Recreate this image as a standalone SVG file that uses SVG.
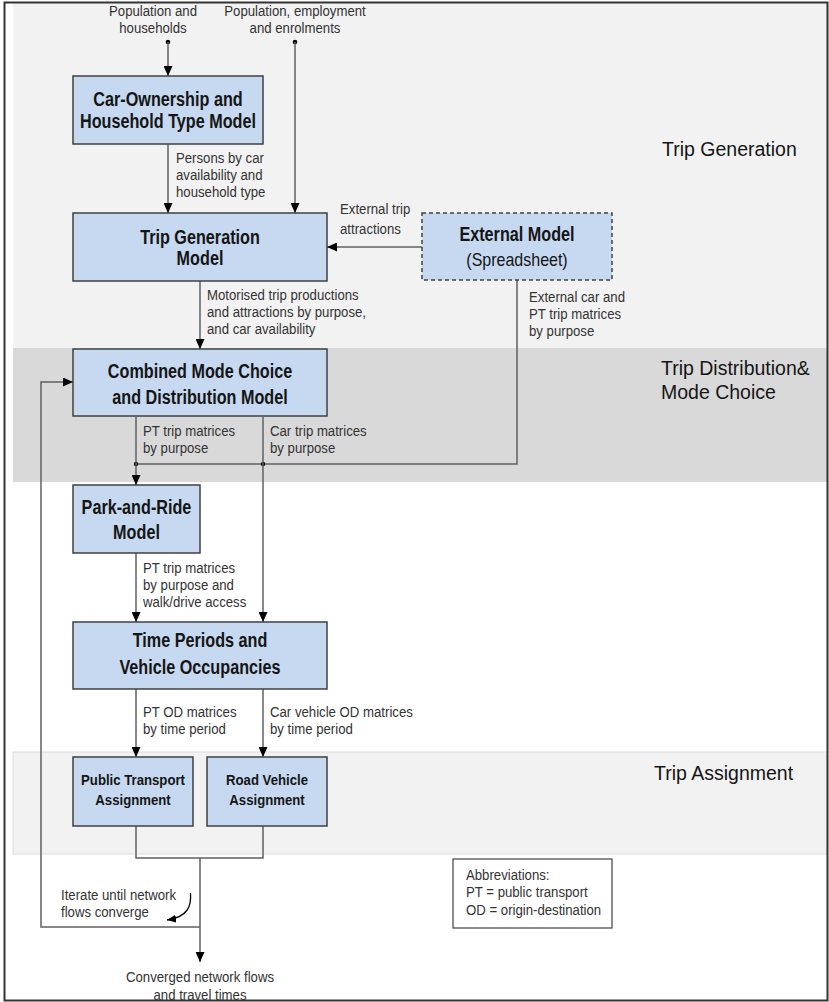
<svg xmlns="http://www.w3.org/2000/svg" width="829" height="1002" viewBox="0 0 829 1002">
<style>
.t{font-family:"Liberation Sans",Arial,sans-serif;font-weight:bold;font-size:20px;fill:#151515;text-anchor:middle}
.ts{font-family:"Liberation Sans",Arial,sans-serif;font-weight:bold;font-size:15.5px;fill:#151515;text-anchor:middle}
.sp{font-family:"Liberation Sans",Arial,sans-serif;font-size:18px;fill:#151515;text-anchor:middle}
.l{font-family:"Liberation Sans",Arial,sans-serif;font-size:15px;fill:#333}
.lm{font-family:"Liberation Sans",Arial,sans-serif;font-size:15px;fill:#333;text-anchor:middle}
.h{font-family:"Liberation Sans",Arial,sans-serif;font-size:19.5px;fill:#151515}
.box{fill:#c6d9f1;stroke:#404040;stroke-width:1.5}
.dbox{fill:#c6d9f1;stroke:#404040;stroke-width:1.5;stroke-dasharray:4 3}
.c{fill:none;stroke:#606060;stroke-width:1.5}
.ca{fill:none;stroke:#606060;stroke-width:1.5;marker-end:url(#ah)}
</style>
<defs>
<marker id="ah" markerUnits="userSpaceOnUse" markerWidth="10" markerHeight="9" refX="10" refY="4.5" orient="auto">
<path d="M0,0 L10,4.5 L0,9 z" fill="#000"/>
</marker>
<marker id="ahs" markerUnits="userSpaceOnUse" markerWidth="10" markerHeight="8" refX="9" refY="4" orient="auto">
<path d="M0,0 L9,4 L0,8 z" fill="#000"/>
</marker>
</defs>

<g id="background">
<rect x="0" y="0" width="829" height="1002" fill="#fff"/>
<rect x="13" y="3" width="814" height="345" fill="#f2f2f2"/>
<rect x="13" y="348" width="814" height="134" fill="#d9d9d9"/>
<rect x="13" y="752" width="814" height="102" fill="#f2f2f2" stroke="#dcdcdc" stroke-width="1"/>
<rect x="4.5" y="2.5" width="823" height="998" fill="none" stroke="#333" stroke-width="2"/>
</g>

<g id="stage-labels">
<text class="h" x="662" y="156">Trip Generation</text>
<text class="h" x="661" y="375">Trip Distribution&amp;</text>
<text class="h" x="661" y="399">Mode Choice</text>
<text class="h" x="654" y="780">Trip Assignment</text>
</g>

<g id="connectors">
<circle cx="168" cy="42" r="2.3" fill="#000"/>
<circle cx="295" cy="42" r="2.3" fill="#000"/>
<path class="ca" d="M168,42 V76"/>
<path class="ca" d="M295,42 V213"/>
<path class="ca" d="M168,144 V213"/>
<path class="ca" d="M422,247 H327"/>
<path class="ca" d="M200,281 V349"/>
<path class="c" d="M517,280 V464 H136"/>
<circle cx="136" cy="464" r="2.2" fill="#000"/>
<circle cx="263" cy="464" r="2.2" fill="#000"/>
<path class="ca" d="M136,417 V485"/>
<path class="ca" d="M263,417 V622"/>
<path class="ca" d="M136,553 V622"/>
<path class="ca" d="M136,689 V757"/>
<path class="ca" d="M263,689 V757"/>
<path class="c" d="M136,826 V858 H263 V826"/>
<path class="ca" d="M200,858 V962"/>
<path class="ca" d="M200,927 H41 V382 H73"/>
<path fill="none" stroke="#000" stroke-width="1.3" marker-end="url(#ahs)" d="M190.5,893 C191.5,906 188,917 167,920"/>
</g>

<g id="inputs">
<text class="lm" transform="matrix(0.88 0 0 1 153 16)">Population and</text>
<text class="lm" transform="matrix(0.88 0 0 1 153 33)">households</text>
<text class="lm" transform="matrix(0.88 0 0 1 295 16)">Population, employment</text>
<text class="lm" transform="matrix(0.88 0 0 1 295 33)">and enrolments</text>
</g>

<g id="edge-labels">
<text class="l" transform="matrix(0.88 0 0 1 176 163)">Persons by car</text>
<text class="l" transform="matrix(0.88 0 0 1 176 180)">availability and</text>
<text class="l" transform="matrix(0.88 0 0 1 176 197)">household type</text>
<text class="l" transform="matrix(0.88 0 0 1 340 214)">External trip</text>
<text class="l" transform="matrix(0.88 0 0 1 340 234)">attractions</text>
<text class="l" transform="matrix(0.88 0 0 1 207 300)">Motorised trip productions</text>
<text class="l" transform="matrix(0.88 0 0 1 207 317)">and attractions by purpose,</text>
<text class="l" transform="matrix(0.88 0 0 1 207 334)">and car availability</text>
<text class="l" transform="matrix(0.88 0 0 1 529 302)">External car and</text>
<text class="l" transform="matrix(0.88 0 0 1 529 319)">PT trip matrices</text>
<text class="l" transform="matrix(0.88 0 0 1 529 336)">by purpose</text>
<text class="l" transform="matrix(0.88 0 0 1 143 436)">PT trip matrices</text>
<text class="l" transform="matrix(0.88 0 0 1 143 453)">by purpose</text>
<text class="l" transform="matrix(0.88 0 0 1 270 436)">Car trip matrices</text>
<text class="l" transform="matrix(0.88 0 0 1 270 453)">by purpose</text>
<text class="l" transform="matrix(0.88 0 0 1 143 573)">PT trip matrices</text>
<text class="l" transform="matrix(0.88 0 0 1 143 590)">by purpose and</text>
<text class="l" transform="matrix(0.88 0 0 1 143 607)">walk/drive access</text>
<text class="l" transform="matrix(0.88 0 0 1 143 717)">PT OD matrices</text>
<text class="l" transform="matrix(0.88 0 0 1 143 734)">by time period</text>
<text class="l" transform="matrix(0.88 0 0 1 270 717)">Car vehicle OD matrices</text>
<text class="l" transform="matrix(0.88 0 0 1 270 734)">by time period</text>
<text class="l" transform="matrix(0.88 0 0 1 61 900)">Iterate until network</text>
<text class="l" transform="matrix(0.88 0 0 1 61 917)">flows converge</text>
<text class="lm" transform="matrix(0.88 0 0 1 200 982)">Converged network flows</text>
<text class="lm" transform="matrix(0.88 0 0 1 200 1000)">and travel times</text>
</g>

<g id="car-ownership">
<rect class="box" x="73" y="76" width="190" height="68"/>
<text class="t" transform="matrix(0.81 0 0 1 168 106)">Car-Ownership and</text>
<text class="t" transform="matrix(0.81 0 0 1 168 128)">Household Type Model</text>
</g>

<g id="trip-generation">
<rect class="box" x="73" y="213" width="254" height="68"/>
<text class="t" transform="matrix(0.81 0 0 1 200 244)">Trip Generation</text>
<text class="t" transform="matrix(0.81 0 0 1 200 265)">Model</text>
</g>

<g id="external-model">
<rect class="dbox" x="422" y="213" width="190" height="67"/>
<text class="t" transform="matrix(0.81 0 0 1 517 241)">External Model</text>
<text class="sp" transform="matrix(0.89 0 0 1 517 266)">(Spreadsheet)</text>
</g>

<g id="combined-model">
<rect class="box" x="73" y="349" width="254" height="67"/>
<text class="t" transform="matrix(0.81 0 0 1 200 378)">Combined Mode Choice</text>
<text class="t" transform="matrix(0.81 0 0 1 200 404)">and Distribution Model</text>
</g>

<g id="park-and-ride">
<rect class="box" x="73" y="485" width="127" height="68"/>
<text class="t" transform="matrix(0.81 0 0 1 136.5 514)">Park-and-Ride</text>
<text class="t" transform="matrix(0.81 0 0 1 136.5 539)">Model</text>
</g>

<g id="time-periods">
<rect class="box" x="73" y="622" width="254" height="67"/>
<text class="t" transform="matrix(0.81 0 0 1 200 647)">Time Periods and</text>
<text class="t" transform="matrix(0.81 0 0 1 200 674)">Vehicle Occupancies</text>
</g>

<g id="pt-assignment">
<rect class="box" x="73" y="757" width="120" height="69"/>
<text class="ts" transform="matrix(0.85 0 0 1 133 785)">Public Transport</text>
<text class="ts" transform="matrix(0.85 0 0 1 133 805)">Assignment</text>
</g>

<g id="road-assignment">
<rect class="box" x="207" y="757" width="120" height="69"/>
<text class="ts" transform="matrix(0.85 0 0 1 267 785)">Road Vehicle</text>
<text class="ts" transform="matrix(0.85 0 0 1 267 805)">Assignment</text>
</g>

<g id="abbreviations">
<rect x="453" y="859" width="159" height="69" fill="#fff" stroke="#404040" stroke-width="1.2"/>
<text class="l" transform="matrix(0.88 0 0 1 466 880)">Abbreviations:</text>
<text class="l" transform="matrix(0.88 0 0 1 466 897)">PT = public transport</text>
<text class="l" transform="matrix(0.88 0 0 1 466 915)">OD = origin-destination</text>
</g>
</svg>
